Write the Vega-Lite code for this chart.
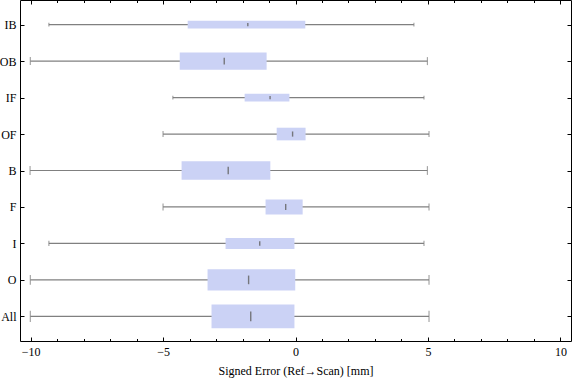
{
  "$schema": "https://vega.github.io/schema/vega-lite/v6.json",
  "width": 551,
  "height": 341,
  "autosize": {"type": "none"},
  "padding": {"left": 20, "top": 0, "right": 5, "bottom": 40},
  "background": "white",
  "config": {
    "view": {"stroke": "black", "strokeWidth": 1},
    "axis": {
      "labelFont": "Liberation Serif",
      "titleFont": "Liberation Serif",
      "labelFontSize": 12,
      "titleFontSize": 12,
      "titleFontWeight": "normal",
      "labelColor": "black",
      "titleColor": "black",
      "domain": false,
      "grid": false,
      "tickColor": "black",
      "tickWidth": 1
    }
  },
  "data": {
    "values": [
      {"group": "IB", "lo": -9.31, "q1": -4.07, "med": -1.8, "q3": 0.37, "hi": 4.47, "n": 60},
      {"group": "OB", "lo": -10.01, "q1": -4.37, "med": -2.69, "q3": -1.09, "hi": 4.98, "n": 290},
      {"group": "IF", "lo": -4.63, "q1": -1.92, "med": -0.96, "q3": -0.23, "hi": 4.85, "n": 60},
      {"group": "OF", "lo": -5.0, "q1": -0.71, "med": -0.11, "q3": 0.38, "hi": 5.04, "n": 160},
      {"group": "B", "lo": -10.02, "q1": -4.3, "med": -2.54, "q3": -0.95, "hi": 4.98, "n": 350},
      {"group": "F", "lo": -5.0, "q1": -1.13, "med": -0.37, "q3": 0.27, "hi": 5.04, "n": 220},
      {"group": "I", "lo": -9.31, "q1": -2.64, "med": -1.35, "q3": -0.04, "hi": 4.85, "n": 120},
      {"group": "O", "lo": -10.01, "q1": -3.32, "med": -1.77, "q3": -0.01, "hi": 5.04, "n": 450},
      {"group": "All", "lo": -10.01, "q1": -3.17, "med": -1.69, "q3": -0.04, "hi": 5.04, "n": 570}
    ]
  },
  "resolve": {"axis": {"x": "independent", "y": "independent"}, "scale": {"size": "independent"}},
  "layer": [
    {
      "mark": {"type": "rule", "color": "#808080", "strokeWidth": 1.2},
      "encoding": {
        "x": {
          "field": "lo", "type": "quantitative",
          "scale": {"domain": [-10.4, 10.4], "nice": false, "zero": false},
          "axis": {
            "orient": "bottom",
            "values": [-10,-9,-8,-7,-6,-5,-4,-3,-2,-1,0,1,2,3,4,5,6,7,8,9,10],
            "labelExpr": "datum.value % 5 === 0 ? datum.label : ''",
            "tickSize": {"condition": {"test": "datum.value % 5 === 0", "value": -4}, "value": -2.5},
            "labelPadding": 9,
            "labelFlush": false,
            "title": "Signed Error (Ref→Scan) [mm]",
            "titlePadding": 8
          }
        },
        "x2": {"field": "hi"},
        "y": {
          "field": "group", "type": "nominal",
          "sort": ["IB","OB","IF","OF","B","F","I","O","All"],
          "scale": {"type": "point", "padding": 0.676},
          "axis": {"orient": "left", "tickSize": -4, "labelPadding": 8, "title": null}
        }
      }
    },
    {
      "mark": {"type": "tick", "color": "#808080", "thickness": 1.2},
      "encoding": {
        "x": {
          "field": "lo", "type": "quantitative",
          "axis": {
            "orient": "top",
            "values": [-10,-9,-8,-7,-6,-5,-4,-3,-2,-1,0,1,2,3,4,5,6,7,8,9,10],
            "labels": false,
            "tickSize": {"condition": {"test": "datum.value % 5 === 0", "value": -4}, "value": -2.5},
            "title": null
          }
        },
        "y": {"field": "group", "type": "nominal", "sort": ["IB","OB","IF","OF","B","F","I","O","All"], "axis": null},
        "size": {"field": "n", "type": "quantitative", "scale": {"type": "sqrt", "domain": [0, 600], "range": [0, 11.5]}, "legend": null}
      }
    },
    {
      "mark": {"type": "tick", "color": "#808080", "thickness": 1.2},
      "encoding": {
        "x": {"field": "hi", "type": "quantitative", "axis": null},
        "y": {
          "field": "group", "type": "nominal", "sort": ["IB","OB","IF","OF","B","F","I","O","All"],
          "axis": {"orient": "right", "labels": false, "tickSize": -4, "title": null}
        },
        "size": {"field": "n", "type": "quantitative", "scale": {"type": "sqrt", "domain": [0, 600], "range": [0, 11.5]}, "legend": null}
      }
    },
    {
      "mark": {"type": "bar", "color": "#cbd2f5"},
      "encoding": {
        "x": {"field": "q1", "type": "quantitative", "axis": null},
        "x2": {"field": "q3"},
        "y": {"field": "group", "type": "nominal", "sort": ["IB","OB","IF","OF","B","F","I","O","All"], "axis": null},
        "size": {"field": "n", "type": "quantitative", "scale": {"type": "sqrt", "domain": [0, 600], "range": [0, 24.5]}, "legend": null}
      }
    },
    {
      "mark": {"type": "tick", "color": "#666666", "thickness": 1.4, "opacity": 0.85},
      "encoding": {
        "x": {"field": "med", "type": "quantitative", "axis": null},
        "y": {"field": "group", "type": "nominal", "sort": ["IB","OB","IF","OF","B","F","I","O","All"], "axis": null},
        "size": {"field": "n", "type": "quantitative", "scale": {"type": "sqrt", "domain": [0, 600], "range": [0, 10]}, "legend": null}
      }
    }
  ]
}
